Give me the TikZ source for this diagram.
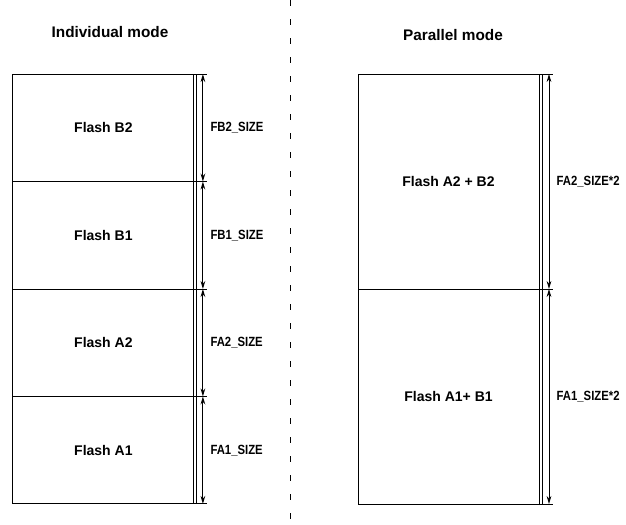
\documentclass[tikz,border=0pt]{standalone}
\usepackage{fontspec}
\setmainfont{Liberation Sans}
\newfontfamily\narrowfont{Liberation Sans}[FakeStretch=0.85]
\usetikzlibrary{positioning,arrows.meta}

\begin{document}
\begin{tikzpicture}[x=0.75pt,y=-0.75pt,
                    flashbox/.style={draw, line width=0.75pt, outer sep=0pt,
                                     minimum width=135.75pt, minimum height=80.6pt,
                                     font=\fontsize{10.5}{12}\selectfont\bfseries},
                    parbox/.style={flashbox, minimum height=161.25pt},
                    modetitle/.style={font=\fontsize{11.5}{13}\selectfont\bfseries},
                    extline/.style={line width=0.75pt},
                    dimarr/.style={{Stealth[length=6pt,width=3.5pt]}-{Stealth[length=6pt,width=3.5pt]}, line width=0.75pt},
                    sizelabel/.style={right=2pt, font=\narrowfont\fontsize{10}{12}\selectfont\bfseries},
                    node distance=0pt
                ]
                    \useasboundingbox (0,0) rectangle (626,525);
                    % divider
                    \coordinate (dtop) at (290,0);
                    \coordinate (dbot) at (290,525);
                    \draw[line width=0.75pt, dash pattern=on 4.5pt off 9.75pt] (dtop) -- (dbot);
                    % individual mode
                    \node[modetitle] (indtitle) at (110,32) {Individual mode};
                    \node[flashbox] (b2) at (103.4,127.8) {Flash B2};
                    \node[flashbox, below=of b2] (b1) {Flash B1};
                    \node[flashbox, below=of b1] (a2) {Flash A2};
                    \node[flashbox, below=of a2] (a1) {Flash A1};
                    \draw[extline] ([xshift=2.25pt]b2.north east) -- ([xshift=2.25pt]a1.south east);
                    \draw[extline] (b2.north east) -- ++(13,0);
                    \draw[extline] (b1.north east) -- ++(13,0);
                    \draw[extline] (a2.north east) -- ++(13,0);
                    \draw[extline] (a1.north east) -- ++(13,0);
                    \draw[extline] (a1.south east) -- ++(13,0);
                    \draw[dimarr] ([xshift=6.75pt]b2.north east) -- node[sizelabel] {FB2\_SIZE} ([xshift=6.75pt]b2.south east);
                    \draw[dimarr] ([xshift=6.75pt]b1.north east) -- node[sizelabel] {FB1\_SIZE} ([xshift=6.75pt]b1.south east);
                    \draw[dimarr] ([xshift=6.75pt]a2.north east) -- node[sizelabel] {FA2\_SIZE} ([xshift=6.75pt]a2.south east);
                    \draw[dimarr] ([xshift=6.75pt]a1.north east) -- node[sizelabel] {FA1\_SIZE} ([xshift=6.75pt]a1.south east);
                    % parallel mode
                    \node[modetitle] (partitle) at (453,35) {Parallel mode};
                    \node[parbox] (ab2) at (448.5,181.5) {Flash A2 + B2};
                    \node[parbox, below=of ab2] (ab1) {Flash A1+ B1};
                    \draw[extline] ([xshift=2.25pt]ab2.north east) -- ([xshift=2.25pt]ab1.south east);
                    \draw[extline] (ab2.north east) -- ++(14,0);
                    \draw[extline] (ab1.north east) -- ++(14,0);
                    \draw[extline] (ab1.south east) -- ++(14,0);
                    \draw[dimarr] ([xshift=7.5pt]ab2.north east) -- node[sizelabel] {FA2\_SIZE*2} ([xshift=7.5pt]ab2.south east);
                    \draw[dimarr] ([xshift=7.5pt]ab1.north east) -- node[sizelabel] {FA1\_SIZE*2} ([xshift=7.5pt]ab1.south east);
                \end{tikzpicture}
\end{document}
